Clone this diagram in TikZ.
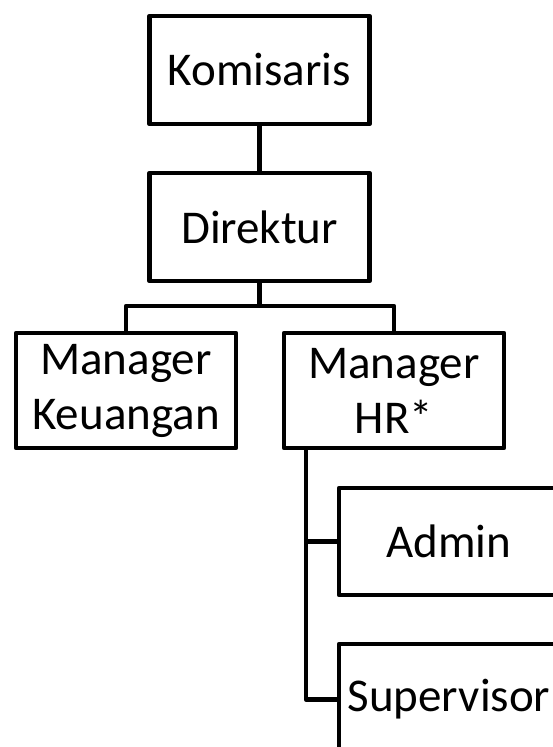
\documentclass[tikz,border=0pt]{standalone}
\usepackage{fontspec}
\setmainfont{Carlito}
\usetikzlibrary{positioning}
\tikzset{
  orgbox/.style={draw=black, line width=4.5pt, line join=round, inner sep=0pt,
                 minimum width=220pt, align=center,
                 font=\fontsize{47}{55}\selectfont},
  orgline/.style={draw=black, line width=4.5pt, line join=round}
}

\begin{document}
\begin{tikzpicture}[x=1pt, y=-1pt]
            \useasboundingbox (0,0) rectangle (552,747);
            % top of the chart
            \node[orgbox, minimum height=108pt] (komisaris) at (259.5, 70.0) {Komisaris};
            \node[orgbox, minimum height=108pt] (direktur)  at (259.5, 227.0) {Direktur};
            % managers
            \node[orgbox, minimum height=115pt] (mgrkeu) at (126, 390.5) {Manager\\Keuangan};
            \node[orgbox, minimum height=115pt] (mgrhr)  at (394, 390.5) {Manager\\HR*};
            % staff under HR
            \node[orgbox, minimum height=107pt] (admin) at (449, 541.5) {Admin};
            \node[orgbox, minimum height=111pt] (supervisor) at (449, 699.5) {Supervisor};
            \coordinate (bar)   at (259.5, 306);
            \coordinate (trunk) at (306, 450);
            % connectors
            \draw[orgline] (komisaris.south) -- (direktur.north);
            \draw[orgline] (direktur.south) -- (bar);
            \draw[orgline] (bar) -| (mgrkeu.north);
            \draw[orgline] (bar) -| (mgrhr.north);
            \draw[orgline] (trunk) |- (admin.west);
            \draw[orgline] (trunk) |- (supervisor.west);
        \end{tikzpicture}
\end{document}
